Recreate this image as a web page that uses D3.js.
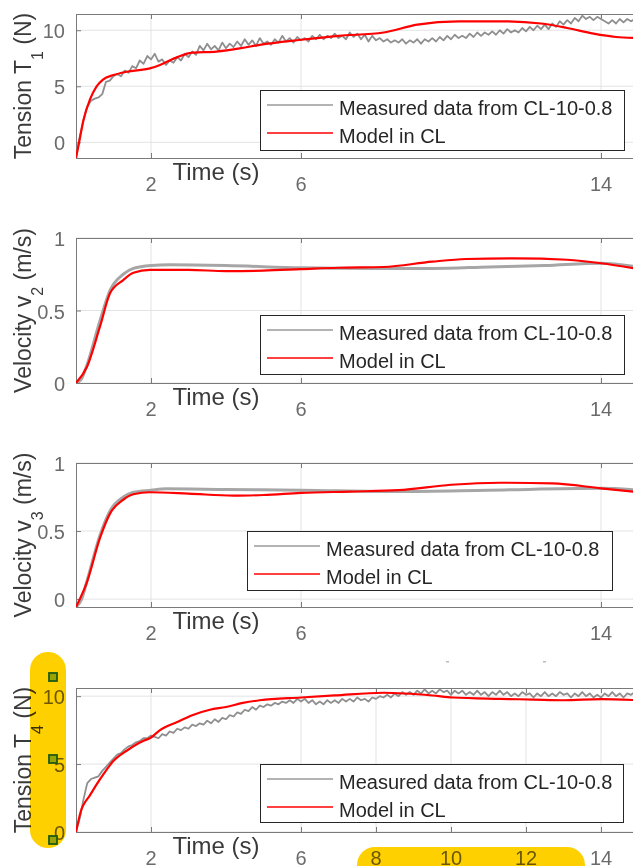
<!DOCTYPE html>
<html>
<head>
<meta charset="utf-8">
<script src="https://cdn.jsdelivr.net/npm/d3@7"></script>
<style>
  body { margin: 0; background: #fff; }
  svg { display: block; font-family: "Liberation Sans", Arial, sans-serif; }
</style>
</head>
<body>
<svg id="chart" width="633" height="866"></svg>
<script>
// ── data ───────────────────────────────────────────────────────────────
const timeTicks   = [2, 6, 14];
const timeTicksT4 = [2, 6, 8, 10, 12, 14];
const tensionTicks  = [0, 5, 10];
const velocityTicks = [0, 0.5, 1];
const seriesNames = ["Measured data from CL-10-0.8", "Model in CL"];

// measured tensions, sampled every 0.1 s from t = 0
const sampleStep = 0.1;
const t1Measured = [
  -1.4, 0.5, 2.0, 3.2, 3.7, 3.9, 4.0, 4.3, 5.4, 5.5,
  5.9, 6.1, 5.9, 6.4, 6.2, 6.8, 6.6, 7.3, 7.0, 7.7,
  7.4, 7.9, 7.2, 7.4, 6.9, 7.3, 7.1, 7.6, 7.3, 7.9,
  7.6, 8.1, 7.8, 8.6, 8.2, 8.8, 8.3, 8.6, 8.2, 8.9,
  8.4, 8.8, 8.5, 9.0, 8.6, 9.2, 8.7, 9.1, 8.6, 9.3,
  8.8, 9.0, 8.7, 9.2, 8.9, 9.5, 9.0, 9.3, 8.9, 9.4,
  9.1, 9.3, 9.0, 9.5, 9.2, 9.6, 9.2, 9.5, 9.3, 9.7,
  9.3, 9.5, 9.2, 9.8, 9.4, 9.7, 9.2, 9.6, 9.0, 9.5,
  9.1, 9.3, 9.0, 9.2, 8.9, 9.1, 8.9, 9.2, 8.8, 9.1,
  8.9, 9.2, 8.8, 9.2, 9.0, 9.3, 9.0, 9.4, 9.1, 9.5,
  9.2, 9.6, 9.3, 9.5, 9.3, 9.7, 9.4, 9.8, 9.5, 9.8,
  9.6, 9.9, 9.6, 10.0, 9.7, 10.1, 9.8, 10.0, 9.8, 10.2,
  9.9, 10.3, 10.0, 10.4, 10.1, 10.5, 10.1, 10.6, 10.3, 10.8,
  10.5, 10.9, 10.6, 11.1, 10.8, 11.3, 11.0, 11.2, 10.9, 11.2,
  11.0, 10.8, 10.6, 10.9, 10.6, 11.0, 10.7, 11.0, 10.8, 11.0
];
const t4Measured = [
  0.0, 1.0, 2.4, 3.6, 3.9, 4.0, 4.1, 4.5, 4.8, 5.1,
  5.4, 5.7, 5.8, 6.1, 6.3, 6.4, 6.6, 6.7, 6.9, 6.9,
  7.1, 7.0, 6.9, 7.2, 7.1, 7.4, 7.3, 7.6, 7.5, 7.7,
  7.6, 7.9, 7.8, 8.0, 7.9, 8.2, 8.0, 8.3, 8.1, 8.4,
  8.3, 8.6, 8.5, 8.8, 8.7, 9.0, 8.9, 9.2, 9.0, 9.3,
  9.2, 9.4, 9.3, 9.5, 9.4, 9.6, 9.5, 9.7, 9.5, 9.8,
  9.6, 9.8, 9.5, 9.7, 9.4, 9.6, 9.4, 9.7, 9.5, 9.7,
  9.5, 9.8, 9.6, 9.8, 9.6, 9.9, 9.7, 9.8, 9.6, 9.9,
  9.8, 10.0, 9.9, 10.1, 9.9, 10.2, 10.0, 10.3, 10.1, 10.3,
  10.1, 10.4, 10.2, 10.5, 10.2, 10.4, 10.2, 10.5, 10.3, 10.4,
  10.1, 10.4, 10.2, 10.4, 10.1, 10.3, 10.1, 10.4, 10.1, 10.3,
  10.0, 10.3, 10.1, 10.4, 10.1, 10.3, 10.0, 10.2, 10.0, 10.3,
  10.1, 10.2, 9.9, 10.2, 10.0, 10.3, 10.0, 10.2, 10.0, 10.3,
  10.1, 10.2, 9.9, 10.2, 10.0, 10.3, 10.0, 10.2, 9.9, 10.1,
  9.9, 10.2, 10.0, 10.3, 10.0, 10.2, 9.9, 10.2, 10.1, 10.3
];

// model / smooth curves as [time, value]
const t1Model = [
  [0, -1.4], [0.1, 0.3], [0.2, 2.0], [0.37, 3.8], [0.55, 5.0], [0.72, 5.6],
  [1.0, 6.0], [1.35, 6.3], [1.97, 6.6], [2.24, 6.9], [2.7, 7.6], [3.1, 8.0],
  [3.75, 8.1], [4.4, 8.4], [4.9, 8.7], [6.0, 9.15], [7.0, 9.5], [8.2, 9.8],
  [9.1, 10.5], [10.2, 10.8], [11.3, 10.8], [12.4, 10.6], [13.1, 10.2],
  [13.8, 9.7], [14.4, 9.4], [15, 9.3]
];
const v2Measured = [
  [0, 0], [0.15, 0.03], [0.3, 0.13], [0.64, 0.43], [0.91, 0.64], [1.26, 0.75],
  [1.53, 0.79], [2.0, 0.81], [2.5, 0.815], [4.0, 0.81], [6.0, 0.795], [8.0, 0.79],
  [9.5, 0.79], [11.0, 0.80], [12.5, 0.81], [14.0, 0.826], [15, 0.80]
];
const v2Model = [
  [0, 0], [0.29, 0.11], [0.64, 0.39], [0.91, 0.62], [1.26, 0.71], [1.53, 0.76],
  [1.97, 0.78], [3.0, 0.78], [4.0, 0.772], [5.0, 0.775], [6.0, 0.785], [7.0, 0.795],
  [8.2, 0.80], [9.5, 0.837], [10.4, 0.855], [11.7, 0.86], [13.1, 0.85],
  [14.0, 0.826], [15, 0.785]
];
const v3Measured = [
  [0, -0.058], [0.15, 0.0], [0.3, 0.14], [0.64, 0.47], [0.91, 0.65], [1.26, 0.75],
  [1.53, 0.785], [2.0, 0.80], [2.4, 0.81], [4.0, 0.805], [6.0, 0.80], [8.6, 0.79],
  [11.0, 0.80], [14.0, 0.814], [15, 0.80]
];
const v3Model = [
  [0, -0.058], [0.28, 0.115], [0.64, 0.45], [0.91, 0.63], [1.26, 0.73], [1.53, 0.77],
  [1.97, 0.785], [3.0, 0.775], [4.2, 0.76], [5.0, 0.765], [6.0, 0.78], [7.3, 0.79],
  [8.6, 0.80], [10.0, 0.84], [11.3, 0.855], [12.7, 0.85], [14.0, 0.814], [15, 0.785]
];
const t4Model = [
  [0, 0], [0.15, 1.7], [0.2, 2.0], [0.37, 2.7], [0.55, 3.5], [0.72, 4.2],
  [0.99, 5.2], [1.36, 6.0], [1.79, 6.7], [1.97, 6.9], [2.24, 7.5], [2.7, 8.1],
  [3.1, 8.6], [3.57, 9.0], [4.0, 9.2], [4.45, 9.5], [4.9, 9.7], [6.0, 9.9],
  [6.9, 10.05], [8.2, 10.25], [9.5, 10.05], [10.05, 9.9], [11.3, 9.8],
  [12.2, 9.75], [13.0, 9.7], [14.0, 9.78], [15, 9.7]
];

// ── layout ─────────────────────────────────────────────────────────────
const svg = d3.select("#chart");
const x = d3.scaleLinear().domain([0, 15]).range([76, 638.5]);
const plotRight = 640;

const toPoints = arr => arr.map((v, i) => [i * sampleStep, v]);

const panels = [
  { top: 14,  bottom: 158, yDomain: [-1.4, 11.45], yTicks: tensionTicks, xTicks: timeTicks,
    label: ["Tension T", "1", " (N)"], measured: toPoints(t1Measured), model: t1Model,
    smooth: false, legend: { x: 260, y: 90, w: 364, h: 60 } },
  { top: 238, bottom: 383, yDomain: [0, 1], yTicks: velocityTicks, xTicks: timeTicks,
    label: ["Velocity v", "2", " (m/s)"], measured: v2Measured, model: v2Model,
    smooth: true, legend: { x: 260, y: 315, w: 364, h: 59 } },
  { top: 463, bottom: 607, yDomain: [-0.058, 1], yTicks: velocityTicks, xTicks: timeTicks,
    label: ["Velocity v", "3", " (m/s)"], measured: v3Measured, model: v3Model,
    smooth: true, legend: { x: 247, y: 531, w: 365, h: 59 } },
  { top: 688, bottom: 832, yDomain: [0, 10.6], yTicks: tensionTicks, xTicks: timeTicksT4,
    label: ["Tension T", "4", " (N)"], measured: toPoints(t4Measured), model: t4Model,
    smooth: false, legend: { x: 260, y: 764, w: 363, h: 58 } }
];

const axisGray = "#7a7a7a";
const tickGray = "#6b6b6b";
const labelGray = "#3a3a3a";

panels.forEach((p, i) => {
  const y = d3.scaleLinear().domain(p.yDomain).range([p.bottom, p.top]);
  const g = svg.append("g");

  const clipId = "clip" + i;
  svg.append("clipPath").attr("id", clipId)
    .append("rect")
    .attr("x", 76).attr("y", p.top)
    .attr("width", plotRight - 76).attr("height", p.bottom - p.top);

  // grid
  g.selectAll(".gx").data(p.xTicks).join("line")
    .attr("x1", d => x(d)).attr("x2", d => x(d))
    .attr("y1", p.top).attr("y2", p.bottom)
    .attr("stroke", "#e3e3e3").attr("stroke-width", 1);
  g.selectAll(".gy").data(p.yTicks).join("line")
    .attr("x1", 76).attr("x2", plotRight)
    .attr("y1", d => y(d)).attr("y2", d => y(d))
    .attr("stroke", "#e3e3e3").attr("stroke-width", 1);

  // box + inward ticks
  const xAxisB = g.append("g").attr("transform", `translate(0,${p.bottom})`)
    .call(d3.axisBottom(x).tickValues(p.xTicks).tickSize(-5).tickFormat(""));
  const xAxisT = g.append("g").attr("transform", `translate(0,${p.top})`)
    .call(d3.axisTop(x).tickValues(p.xTicks).tickSize(-5).tickFormat(""));
  const yAxisL = g.append("g").attr("transform", "translate(76,0)")
    .call(d3.axisLeft(y).tickValues(p.yTicks).tickSize(-5).tickFormat(""));
  [xAxisB, xAxisT, yAxisL].forEach(a => {
    a.select(".domain").remove();
    a.selectAll("line").attr("stroke", axisGray);
  });
  g.append("line").attr("x1", 76).attr("x2", plotRight)
    .attr("y1", p.top + 0.5).attr("y2", p.top + 0.5).attr("stroke", axisGray);
  g.append("line").attr("x1", 76).attr("x2", plotRight)
    .attr("y1", p.bottom + 0.5).attr("y2", p.bottom + 0.5).attr("stroke", axisGray);
  g.append("line").attr("x1", 76.5).attr("x2", 76.5)
    .attr("y1", p.top).attr("y2", p.bottom).attr("stroke", axisGray);

  // tick labels
  g.selectAll(".xl").data(p.xTicks).join("text")
    .attr("x", d => x(d)).attr("y", p.bottom + 33)
    .attr("text-anchor", "middle")
    .attr("fill", tickGray).style("font-size", "20px")
    .text(d => d);
  g.selectAll(".yl").data(p.yTicks).join("text")
    .attr("x", 65).attr("y", d => y(d) + 8)
    .attr("text-anchor", "end")
    .attr("fill", tickGray).style("font-size", "20px")
    .text(d => d);

  // axis titles
  g.append("text")
    .attr("x", 216).attr("y", p.bottom + 22)
    .attr("text-anchor", "middle")
    .attr("fill", labelGray).style("font-size", "24px")
    .text("Time (s)");
  const yl = g.append("text")
    .attr("transform", `translate(31,${(p.top + p.bottom) / 2}) rotate(-90)`)
    .attr("text-anchor", "middle")
    .attr("fill", labelGray).style("font-size", "23px");
  yl.append("tspan").text(p.label[0]);
  yl.append("tspan").attr("dy", 12).style("font-size", "16px").text(p.label[1]);
  yl.append("tspan").attr("dy", -12).text(p.label[2]);

  // curves
  const line = d3.line()
    .x(d => x(d[0])).y(d => y(d[1]))
    .curve(p.smooth ? d3.curveMonotoneX : d3.curveLinear);
  const modelLine = d3.line()
    .x(d => x(d[0])).y(d => y(d[1]))
    .curve(d3.curveMonotoneX);
  const curves = g.append("g").attr("clip-path", `url(#${clipId})`);
  curves.append("path").datum(p.measured)
    .attr("d", line).attr("fill", "none")
    .attr("stroke", p.smooth ? "#a6a6a6" : "#8f8f8f")
    .attr("stroke-width", p.smooth ? 3 : 1.8)
    .attr("stroke-linejoin", "round");
  curves.append("path").datum(p.model)
    .attr("d", modelLine).attr("fill", "none")
    .attr("stroke", "#ff0000").attr("stroke-width", 2.2)
    .attr("stroke-linejoin", "round");

  // legend
  const L = p.legend;
  const lg = g.append("g");
  lg.append("rect")
    .attr("x", L.x + 0.5).attr("y", L.y + 0.5).attr("width", L.w).attr("height", L.h)
    .attr("fill", "#fff").attr("stroke", "#262626").attr("stroke-width", 1);
  const rows = [
    { name: seriesNames[0], color: "#9a9a9a", w: 1.3, dy: 15 },
    { name: seriesNames[1], color: "#ff0000", w: 1.6, dy: 43 }
  ];
  rows.forEach(r => {
    lg.append("line")
      .attr("x1", L.x + 7).attr("x2", L.x + 73)
      .attr("y1", L.y + r.dy).attr("y2", L.y + r.dy)
      .attr("stroke", r.color).attr("stroke-width", r.w);
    lg.append("text")
      .attr("x", L.x + 79).attr("y", L.y + r.dy + 9.5)
      .attr("fill", "#262626").style("font-size", "20px")
      .text(r.name);
  });
});

// stray marks in the source image
svg.append("rect").attr("x", 446).attr("y", 661).attr("width", 3).attr("height", 1.5).attr("fill", "#bbb");
svg.append("rect").attr("x", 543).attr("y", 661).attr("width", 3).attr("height", 1.5).attr("fill", "#bbb");

// ── highlight overlays ─────────────────────────────────────────────────
const hl = svg.append("g");
hl.append("rect")
  .attr("x", 30).attr("y", 652).attr("width", 36).attr("height", 196).attr("rx", 18)
  .attr("fill", "#ffd000").style("mix-blend-mode", "multiply");
hl.append("rect")
  .attr("x", 357).attr("y", 847).attr("width", 228).attr("height", 50).attr("rx", 18)
  .attr("fill", "#ffd000").style("mix-blend-mode", "multiply");
hl.selectAll(".marker").data([677, 759, 840]).join("rect")
  .attr("x", 49).attr("y", d => d - 4).attr("width", 8).attr("height", 8)
  .attr("fill", "#9aa400").attr("stroke", "#1f5a14").attr("stroke-width", 1.8);
</script>
</body>
</html>
